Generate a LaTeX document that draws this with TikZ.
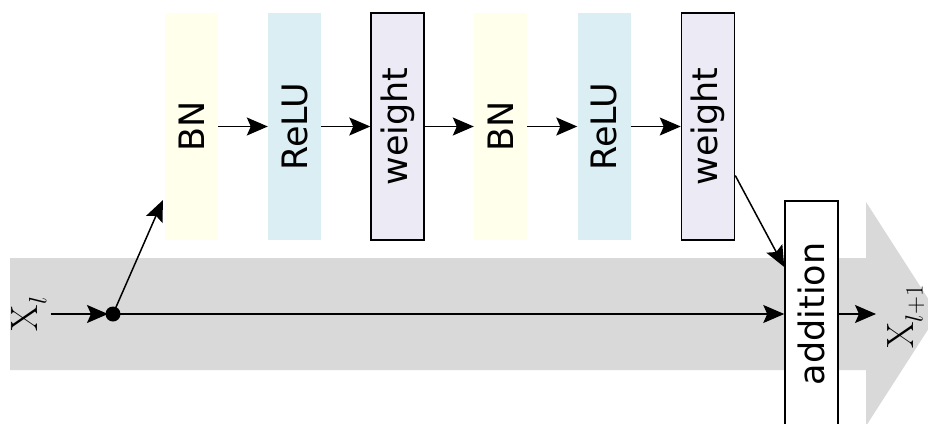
\documentclass[tikz,border=0pt]{standalone}
\usepackage{fontspec}
\newfontfamily\boxfont{DejaVu Sans}
\usetikzlibrary{arrows.meta,calc}
\definecolor{bnfill}{RGB}{255,255,235}
\definecolor{relufill}{RGB}{218,238,243}
\definecolor{wfill}{RGB}{236,234,244}
\definecolor{bandgray}{RGB}{217,217,217}
\tikzset{
  layer/.style={minimum width=53pt,minimum height=227pt,inner sep=0pt,
    font=\boxfont\fontsize{35}{40}\selectfont},
  bnbox/.style={layer,fill=bnfill},
  relubox/.style={layer,fill=relufill},
  wbox/.style={layer,fill=wfill,draw=black,line width=1.5pt},
  addbox/.style={layer,fill=white,draw=black,line width=1.5pt,minimum height=226pt},
  conn/.style={line width=1.5pt,-{Stealth[length=21pt,width=18pt,inset=4pt]}},
  lbl/.style={font=\fontsize{38}{44}\selectfont,inner sep=0pt}
}
\begin{document}
\begin{tikzpicture}[x=1pt,y=-1pt]
\useasboundingbox (0,0) rectangle (928,423);
\clip (0,0) rectangle (928,423);
% big gray arrow
\fill[bandgray] (10,258) -- (866,258) -- (866,202) -- (938,314) -- (866,426) -- (866,370) -- (10,370) -- cycle;
% layer boxes
\node[bnbox]   (bn1) at (191.5,126.5) {\rotatebox{90}{BN}};
\node[relubox] (re1) at (294.5,126.5) {\rotatebox{90}{ReLU}};
\node[wbox]    (w1)  at (397.5,126.5) {\rotatebox{90}{weight}};
\node[bnbox]   (bn2) at (500.5,126.5) {\rotatebox{90}{BN}};
\node[relubox] (re2) at (604,126.5) {\rotatebox{90}{ReLU}};
\node[wbox]    (w2)  at (708,126.5) {\rotatebox{90}{weight}};
\node[addbox]  (add) at (811.5,314) {\rotatebox{90}{addition}};
% labels
\node[lbl] (xl) at (29,314) {\rotatebox{90}{$\mathrm{X}_l$}};
\node[lbl] (xl1) at (906,317) {\rotatebox{90}{$\mathrm{X}_{l+1}$}};
% split dot
\fill (113,314) circle (7.5pt);
\coordinate (dot) at (113,314);
\coordinate (out) at (876,314);
% connectors
\draw[conn] ([xshift=4pt]xl.east) -- ([xshift=-5pt]dot);
\draw[conn] (dot) -- (add.west);
\draw[conn] (dot) -- ([shift={(-2pt,40pt)}]bn1.south west);
\draw[conn] (bn1.east) -- (re1.west);
\draw[conn] (re1.east) -- (w1.west);
\draw[conn] (w1.east) -- (bn2.west);
\draw[conn] (bn2.east) -- (re2.west);
\draw[conn] (re2.east) -- (w2.west);
\draw[conn] ([yshift=-49pt]w2.east) -- ([yshift=47pt]add.west);
\draw[conn] (add.east) -- (out);
\end{tikzpicture}
\end{document}
